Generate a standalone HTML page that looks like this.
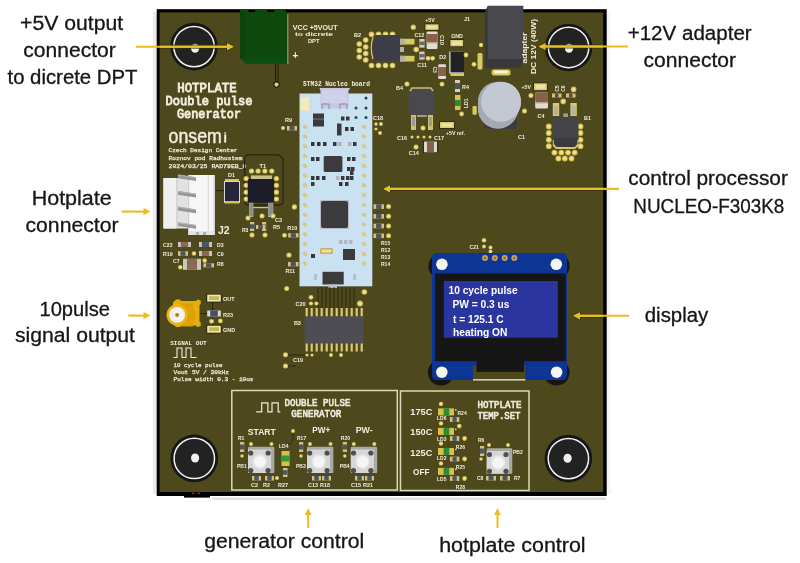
<!DOCTYPE html>
<html><head><meta charset="utf-8"><style>
html,body{margin:0;padding:0;background:#fff;}
body{width:800px;height:563px;overflow:hidden;position:relative;}
svg{position:absolute;left:0;top:0;}
</style></head><body>
<svg width="800" height="563" viewBox="0 0 800 563">
<defs><filter id="soft" x="-5%" y="-5%" width="110%" height="110%"><feGaussianBlur stdDeviation="0.35"/></filter></defs>
<g filter="url(#soft)">
<rect x="152.8" y="12" width="3.9" height="482" rx="0" fill="#ececec" />
<rect x="606.7" y="12" width="4" height="482" rx="0" fill="#f4f4f4" />
<rect x="212" y="497.5" width="394" height="2.5" rx="0" fill="#e0e0e0" />
<rect x="184" y="495" width="26" height="2.6" rx="0" fill="#000" />
<rect x="156.7" y="9.2" width="450" height="486.8" rx="0" fill="#000" />
<rect x="159.6" y="12.4" width="443.5" height="479.6" rx="0" fill="#4e481b" />
<rect x="192" y="492.6" width="2.6" height="1.4" rx="0" fill="#b02020" />
<rect x="197.5" y="492.6" width="2.6" height="1.4" rx="0" fill="#b02020" />
<circle cx="194" cy="46.6" r="23.8" fill="#181818" />
<circle cx="194" cy="46.6" r="20.2" fill="#202020" stroke="#f2f2f2" stroke-width="1.5"/>
<ellipse cx="195.1" cy="48.2" rx="4.1" ry="4.5" fill="#f2f2ec"/>
<circle cx="568.6" cy="47.5" r="23.8" fill="#181818" />
<circle cx="568.6" cy="47.5" r="20.2" fill="#202020" stroke="#f2f2f2" stroke-width="1.5"/>
<ellipse cx="569" cy="48.3" rx="4.1" ry="4.5" fill="#f2f2ec"/>
<circle cx="194.3" cy="458.4" r="23.8" fill="#181818" />
<circle cx="194.3" cy="458.4" r="20.2" fill="#202020" stroke="#f2f2f2" stroke-width="1.5"/>
<ellipse cx="195.1" cy="458" rx="4.1" ry="4.5" fill="#f2f2ec"/>
<circle cx="568.4" cy="458.6" r="23.8" fill="#181818" />
<circle cx="568.4" cy="458.6" r="20.2" fill="#202020" stroke="#f2f2f2" stroke-width="1.5"/>
<ellipse cx="567.6" cy="458.2" rx="4.1" ry="4.5" fill="#f2f2ec"/>
<path d="M240,9 L247.5,9 L249,12.5 L254.5,12.5 L256,9 L266.5,9 L268,12.5 L273.5,12.5 L275,9 L283.5,9 L287.8,13 L287.8,64 L246,64 L240,58 Z" fill="#0c4a10"/>
<rect x="240" y="12" width="5" height="46" rx="0" fill="#0a420d" />
<rect x="245" y="58.5" width="42.8" height="5.5" rx="0" fill="#0e4e12" />
<rect x="287.2" y="14" width="1.2" height="50" rx="0" fill="#8aa070" />
<line x1="275.5" y1="64" x2="275.5" y2="84" stroke="#1a1808" stroke-width="1"/>
<line x1="278" y1="64" x2="278" y2="84" stroke="#1a1808" stroke-width="1"/>
<circle cx="276.5" cy="84.6" r="3.3" fill="#2a2410" />
<circle cx="276.5" cy="84.6" r="2.1" fill="#e2d27c" />
<text x="292.8" y="29.8" font-family="Liberation Sans" font-size="6.4" font-weight="bold" fill="#f0eede" text-anchor="start" textLength="44.7" lengthAdjust="spacingAndGlyphs">VCC  +5VOUT</text>
<text x="295" y="36.2" font-family="Liberation Sans" font-size="5.6" font-weight="bold" fill="#f0eede" text-anchor="start" textLength="38" lengthAdjust="spacingAndGlyphs">to dicrete</text>
<text x="307.9" y="42.6" font-family="Liberation Sans" font-size="6" font-weight="bold" fill="#f0eede" text-anchor="start" textLength="11.5" lengthAdjust="spacingAndGlyphs">DPT</text>
<text x="295.5" y="59" font-family="Liberation Sans" font-size="10" font-weight="bold" fill="#f0eede" text-anchor="middle" >+</text>
<text x="207" y="91.9" font-family="Liberation Mono" font-size="13" font-weight="normal" fill="#f0eede" text-anchor="middle" stroke="#f0eede" stroke-width="0.9" textLength="59.5" lengthAdjust="spacingAndGlyphs">HOTPLATE</text>
<text x="209" y="105" font-family="Liberation Mono" font-size="13" font-weight="normal" fill="#f0eede" text-anchor="middle" stroke="#f0eede" stroke-width="0.9" textLength="87" lengthAdjust="spacingAndGlyphs">Double pulse</text>
<text x="209" y="118.2" font-family="Liberation Mono" font-size="13" font-weight="normal" fill="#f0eede" text-anchor="middle" stroke="#f0eede" stroke-width="0.9" textLength="64" lengthAdjust="spacingAndGlyphs">Generator</text>
<text x="168.6" y="142.6" font-family="Liberation Sans" font-size="19.5" font-weight="normal" fill="#f0eede" text-anchor="start" stroke="#f0eede" stroke-width="0.45" textLength="53.3" lengthAdjust="spacingAndGlyphs">onsem</text>
<rect x="224.2" y="132.4" width="2" height="10.2" rx="0" fill="#f0eede" />
<rect x="224.2" y="133.6" width="2" height="0.9" rx="0" fill="#4e481b" />
<text x="168.5" y="152" font-family="Liberation Mono" font-size="6" font-weight="normal" fill="#f0eede" text-anchor="start" stroke="#f0eede" stroke-width="0.25" textLength="69" lengthAdjust="spacingAndGlyphs">Czech Design Center</text>
<text x="168.5" y="160" font-family="Liberation Mono" font-size="6" font-weight="normal" fill="#f0eede" text-anchor="start" stroke="#f0eede" stroke-width="0.25" textLength="74" lengthAdjust="spacingAndGlyphs">Roznov pod Radhostem</text>
<text x="168.5" y="168" font-family="Liberation Mono" font-size="6" font-weight="normal" fill="#f0eede" text-anchor="start" stroke="#f0eede" stroke-width="0.25" textLength="78" lengthAdjust="spacingAndGlyphs">2024/03/25 RAD79EB_0</text>
<path d="M248.7,154.8 L279,154.8 L283,159 L283,201 Q283,205 279,205 L248.7,205 Q244.7,205 244.7,201 L244.7,158.8 Q244.7,154.8 248.7,154.8 Z" fill="none" stroke="#2a2610" stroke-width="1.3"/>
<text x="259.5" y="167.5" font-family="Liberation Sans" font-size="5.6" font-weight="bold" fill="#f0eede" text-anchor="start" >T1</text>
<circle cx="251.5" cy="171" r="2.6" fill="#d2be55" />
<circle cx="251.5" cy="171" r="1.56" fill="#ece29c" />
<circle cx="258.1" cy="171" r="2.6" fill="#d2be55" />
<circle cx="258.1" cy="171" r="1.56" fill="#ece29c" />
<circle cx="264.9" cy="171" r="2.6" fill="#d2be55" />
<circle cx="264.9" cy="171" r="1.56" fill="#ece29c" />
<circle cx="271.8" cy="171" r="2.6" fill="#d2be55" />
<circle cx="271.8" cy="171" r="1.56" fill="#ece29c" />
<circle cx="246.2" cy="178.5" r="2.6" fill="#d2be55" />
<circle cx="246.2" cy="178.5" r="1.56" fill="#ece29c" />
<circle cx="276.4" cy="178.5" r="2.6" fill="#d2be55" />
<circle cx="276.4" cy="178.5" r="1.56" fill="#ece29c" />
<circle cx="246.2" cy="185.3" r="2.6" fill="#d2be55" />
<circle cx="246.2" cy="185.3" r="1.56" fill="#ece29c" />
<circle cx="276.4" cy="185.3" r="2.6" fill="#d2be55" />
<circle cx="276.4" cy="185.3" r="1.56" fill="#ece29c" />
<circle cx="246.2" cy="192.2" r="2.6" fill="#d2be55" />
<circle cx="246.2" cy="192.2" r="1.56" fill="#ece29c" />
<circle cx="276.4" cy="192.2" r="2.6" fill="#d2be55" />
<circle cx="276.4" cy="192.2" r="1.56" fill="#ece29c" />
<circle cx="246.2" cy="199" r="2.6" fill="#d2be55" />
<circle cx="246.2" cy="199" r="1.56" fill="#ece29c" />
<circle cx="276.4" cy="199" r="2.6" fill="#d2be55" />
<circle cx="276.4" cy="199" r="1.56" fill="#ece29c" />
<rect x="251" y="175.4" width="21" height="4" rx="0" fill="#c8c090" />
<rect x="247.8" y="179" width="26.2" height="23.7" rx="1.5" fill="#1c1a2a" />
<rect x="249" y="202.7" width="4.4" height="14.3" rx="0" fill="#a8a8a0" />
<rect x="268" y="202.7" width="5.3" height="14.3" rx="0" fill="#a8a8a0" />
<rect x="249.5" y="203" width="3.4" height="13" rx="0" fill="#8e8e88" />
<rect x="268.5" y="203" width="4.3" height="13" rx="0" fill="#8e8e88" />
<rect x="253" y="207" width="15" height="1.2" rx="0" fill="#c0c0b8" />
<text x="228" y="177" font-family="Liberation Sans" font-size="5.5" font-weight="bold" fill="#f0eede" text-anchor="start" >D1</text>
<rect x="225" y="179" width="14" height="3" rx="0" fill="#d0c060" />
<rect x="224" y="181" width="16" height="22" rx="0" fill="#d8d8d0" />
<rect x="225" y="182" width="14" height="19" rx="0" fill="#26283a" />
<rect x="225" y="201" width="14" height="2.5" rx="0" fill="#d0c060" />
<rect x="216" y="190" width="8" height="1.2" rx="0" fill="#2a2612" />
<rect x="250" y="222" width="4.2" height="9" rx="0" fill="#d4c27a" />
<rect x="250" y="224.25" width="4.2" height="4.5" rx="0" fill="#4a5468" />
<rect x="262" y="222" width="4.2" height="9" rx="0" fill="#d4c27a" />
<rect x="262" y="224.25" width="4.2" height="4.5" rx="0" fill="#8a6a52" />
<circle cx="262" cy="216" r="2.5" fill="#d2be55" />
<circle cx="262" cy="216" r="1.5" fill="#ece29c" />
<circle cx="273" cy="216" r="2.5" fill="#d2be55" />
<circle cx="273" cy="216" r="1.5" fill="#ece29c" />
<circle cx="265" cy="235" r="2.5" fill="#d2be55" />
<circle cx="265" cy="235" r="1.5" fill="#ece29c" />
<circle cx="252" cy="235" r="2.5" fill="#d2be55" />
<circle cx="252" cy="235" r="1.5" fill="#ece29c" />
<text x="242" y="232" font-family="Liberation Sans" font-size="5" font-weight="bold" fill="#f0eede" text-anchor="start" >R3</text>
<text x="275" y="222" font-family="Liberation Sans" font-size="5.5" font-weight="bold" fill="#f0eede" text-anchor="start" >C3</text>
<text x="273" y="229" font-family="Liberation Sans" font-size="5.5" font-weight="bold" fill="#f0eede" text-anchor="start" >R5</text>
<rect x="256" y="225" width="9" height="4" rx="0" fill="#d4c27a" />
<rect x="258.25" y="225" width="4.5" height="4" rx="0" fill="#4a5468" />
<circle cx="248" cy="218" r="2.5" fill="#d2be55" />
<circle cx="248" cy="218" r="1.5" fill="#ece29c" />
<rect x="163.4" y="178" width="37" height="50.5" rx="0" fill="#e2e2e2" />
<rect x="163.4" y="178" width="13" height="50.5" rx="0" fill="#f0f0f0" />
<rect x="176.4" y="178" width="1" height="50.5" rx="0" fill="#c8c8c8" />
<rect x="188" y="175" width="27" height="60" rx="0" fill="#f6f6f6" />
<rect x="188" y="175" width="1.2" height="60" rx="0" fill="#d0d0d0" />
<rect x="207.8" y="175" width="1" height="60" rx="0" fill="#d8d8d8" />
<rect x="213.5" y="175" width="1.5" height="60" rx="0" fill="#d0d0d0" />
<polygon points="178,174.4 196,177.2 196,181.0 178,178.2" fill="#969696"/>
<polygon points="178,174.4 196,177.2 196,178.2 178,175.4" fill="#b4b4b4"/>
<polygon points="178,191.0 196,193.79999999999998 196,197.6 178,194.79999999999998" fill="#969696"/>
<polygon points="178,191.0 196,193.79999999999998 196,194.79999999999998 178,192.0" fill="#b4b4b4"/>
<polygon points="178,206.60000000000002 196,209.4 196,213.20000000000002 178,210.4" fill="#969696"/>
<polygon points="178,206.60000000000002 196,209.4 196,210.4 178,207.60000000000002" fill="#b4b4b4"/>
<polygon points="178,222.20000000000002 196,225.0 196,228.8 178,226.0" fill="#969696"/>
<polygon points="178,222.20000000000002 196,225.0 196,226.0 178,223.20000000000002" fill="#b4b4b4"/>
<rect x="189" y="231" width="24" height="4" rx="0" fill="#e4e4e4" />
<rect x="196" y="232" width="3" height="3" rx="0" fill="#b0b0b0" />
<rect x="203" y="232" width="3" height="3" rx="0" fill="#b0b0b0" />
<text x="218" y="234.2" font-family="Liberation Sans" font-size="10.5" font-weight="bold" fill="#f0eede" text-anchor="start" >J2</text>
<text x="163" y="246.5" font-family="Liberation Sans" font-size="5.2" font-weight="bold" fill="#f0eede" text-anchor="start" >C22</text>
<rect x="178" y="242" width="13" height="5" rx="0" fill="#c8c8c0" />
<rect x="180.86" y="242" width="7.280000000000001" height="5" rx="0" fill="#8a6a52" />
<rect x="199" y="242" width="13" height="5" rx="0" fill="#c8c8c0" />
<rect x="201.86" y="242" width="7.280000000000001" height="5" rx="0" fill="#4a5468" />
<text x="217" y="246.5" font-family="Liberation Sans" font-size="5.2" font-weight="bold" fill="#f0eede" text-anchor="start" >D3</text>
<text x="163" y="255.5" font-family="Liberation Sans" font-size="5.2" font-weight="bold" fill="#f0eede" text-anchor="start" >R19</text>
<rect x="178" y="251.2" width="10" height="4.6" rx="0" fill="#d4c27a" />
<rect x="180.5" y="251.2" width="5.0" height="4.6" rx="0" fill="#4a5468" />
<circle cx="194" cy="253.5" r="2.3" fill="#d2be55" />
<circle cx="194" cy="253.5" r="1.38" fill="#ece29c" />
<rect x="199" y="251" width="13" height="5" rx="0" fill="#c8c8c0" />
<rect x="201.86" y="251" width="7.280000000000001" height="5" rx="0" fill="#8a6a52" />
<text x="217" y="255.5" font-family="Liberation Sans" font-size="5.2" font-weight="bold" fill="#f0eede" text-anchor="start" >C9</text>
<text x="173" y="263" font-family="Liberation Sans" font-size="5.2" font-weight="bold" fill="#f0eede" text-anchor="start" >C7</text>
<rect x="183" y="258.8" width="18" height="11" rx="0" fill="#c8c8c0" />
<rect x="186.96" y="258.8" width="10.080000000000002" height="11" rx="0" fill="#8a6a52" />
<circle cx="180.3" cy="267.2" r="2.3" fill="#d2be55" />
<circle cx="180.3" cy="267.2" r="1.38" fill="#ece29c" />
<circle cx="204.7" cy="260.6" r="2.3" fill="#d2be55" />
<circle cx="204.7" cy="260.6" r="1.38" fill="#ece29c" />
<rect x="203.4" y="263.3" width="10.6" height="4" rx="0" fill="#d4c27a" />
<rect x="206.05" y="263.3" width="5.3" height="4" rx="0" fill="#4a5468" />
<text x="217" y="266" font-family="Liberation Sans" font-size="5.2" font-weight="bold" fill="#f0eede" text-anchor="start" >R8</text>
<text x="354" y="36.5" font-family="Liberation Sans" font-size="5.6" font-weight="bold" fill="#f0eede" text-anchor="start" >B2</text>
<circle cx="371.5" cy="34.2" r="2.8" fill="#d2be55" />
<circle cx="371.5" cy="34.2" r="1.68" fill="#ece29c" />
<circle cx="378.5" cy="34.2" r="2.8" fill="#d2be55" />
<circle cx="378.5" cy="34.2" r="1.68" fill="#ece29c" />
<circle cx="385.5" cy="34.2" r="2.8" fill="#d2be55" />
<circle cx="385.5" cy="34.2" r="1.68" fill="#ece29c" />
<circle cx="392.5" cy="34.2" r="2.8" fill="#d2be55" />
<circle cx="392.5" cy="34.2" r="1.68" fill="#ece29c" />
<circle cx="371.5" cy="65.5" r="2.8" fill="#d2be55" />
<circle cx="371.5" cy="65.5" r="1.68" fill="#ece29c" />
<circle cx="378.5" cy="65.5" r="2.8" fill="#d2be55" />
<circle cx="378.5" cy="65.5" r="1.68" fill="#ece29c" />
<circle cx="385.5" cy="65.5" r="2.8" fill="#d2be55" />
<circle cx="385.5" cy="65.5" r="1.68" fill="#ece29c" />
<circle cx="392.5" cy="65.5" r="2.8" fill="#d2be55" />
<circle cx="392.5" cy="65.5" r="1.68" fill="#ece29c" />
<circle cx="365.7" cy="40" r="2.8" fill="#d2be55" />
<circle cx="365.7" cy="40" r="1.68" fill="#ece29c" />
<circle cx="365.7" cy="47" r="2.8" fill="#d2be55" />
<circle cx="365.7" cy="47" r="1.68" fill="#ece29c" />
<circle cx="365.7" cy="53.5" r="2.8" fill="#d2be55" />
<circle cx="365.7" cy="53.5" r="1.68" fill="#ece29c" />
<circle cx="365.7" cy="60" r="2.8" fill="#d2be55" />
<circle cx="365.7" cy="60" r="1.68" fill="#ece29c" />
<circle cx="359.3" cy="44" r="2.8" fill="#d2be55" />
<circle cx="359.3" cy="44" r="1.68" fill="#ece29c" />
<circle cx="359.3" cy="50.5" r="2.8" fill="#d2be55" />
<circle cx="359.3" cy="50.5" r="1.68" fill="#ece29c" />
<circle cx="359.3" cy="57" r="2.8" fill="#d2be55" />
<circle cx="359.3" cy="57" r="1.68" fill="#ece29c" />
<path d="M376,35 L399.8,35 L399.8,61 L376,61 L372.5,57 L372.5,39 Z" fill="#3c3c48"/>
<path d="M373,37 Q369.5,48 373,59" fill="none" stroke="#d8c860" stroke-width="1.2"/>
<rect x="400" y="38.8" width="14.5" height="5.7" rx="0" fill="#d8c860" />
<rect x="400" y="38.8" width="5" height="5.7" rx="0" fill="#b4b0a8" />
<rect x="400" y="55.8" width="14.5" height="5.7" rx="0" fill="#d8c860" />
<rect x="400" y="55.8" width="5" height="5.7" rx="0" fill="#b4b0a8" />
<rect x="400" y="47" width="4" height="5" rx="0" fill="#b4b0a8" />
<circle cx="416.2" cy="49.5" r="2.8" fill="#d2be55" />
<circle cx="416.2" cy="49.5" r="1.68" fill="#ece29c" />
<text x="425.3" y="21.8" font-family="Liberation Sans" font-size="5.2" font-weight="bold" fill="#f0eede" text-anchor="start" >+5V</text>
<circle cx="413.3" cy="27.2" r="2.6" fill="#d2be55" />
<circle cx="413.3" cy="27.2" r="1.56" fill="#ece29c" />
<rect x="424.5" y="23.5" width="14.9" height="7.199999999999999" rx="0" fill="#2a2612" />
<rect x="425.3" y="24.3" width="13.3" height="5.6" rx="0" fill="#dccb72" />
<rect x="426.90000000000003" y="25.7" width="10.100000000000001" height="2.8" rx="0" fill="#eee2a6" />
<text x="414.4" y="37.2" font-family="Liberation Sans" font-size="5.4" font-weight="bold" fill="#f0eede" text-anchor="start" >C12</text>
<rect x="426.6" y="31.6" width="10.9" height="17.4" rx="1" fill="#e0dcd4" />
<rect x="426.6" y="34" width="10.9" height="8" rx="0" fill="#8a6048" />
<rect x="426.6" y="42" width="10.9" height="1.5" rx="0" fill="#b8a898" />
<text transform="translate(439.5,35) rotate(90)" font-family="Liberation Sans" font-weight="bold" font-size="5.4" fill="#f0eede">C10</text>
<rect x="419.3" y="39" width="5.3" height="8.6" rx="0" fill="#d8d0b8" />
<rect x="419.3" y="41.5" width="5.3" height="3.6" rx="0" fill="#6a6a70" />
<rect x="419.3" y="51.6" width="5.3" height="8" rx="0" fill="#d8d0b8" />
<rect x="419.3" y="54" width="5.3" height="3.4" rx="0" fill="#6a6a70" />
<circle cx="428" cy="58.3" r="2.4" fill="#d2be55" />
<circle cx="428" cy="58.3" r="1.44" fill="#ece29c" />
<circle cx="432.6" cy="58.3" r="2.4" fill="#d2be55" />
<circle cx="432.6" cy="58.3" r="1.44" fill="#ece29c" />
<text x="417.3" y="67.2" font-family="Liberation Sans" font-size="5.4" font-weight="bold" fill="#f0eede" text-anchor="start" >C11</text>
<text x="439.3" y="59" font-family="Liberation Sans" font-size="5.4" font-weight="bold" fill="#f0eede" text-anchor="start" >D2</text>
<text x="451.3" y="37.6" font-family="Liberation Sans" font-size="5.2" font-weight="bold" fill="#f0eede" text-anchor="start" >GND</text>
<rect x="449.5" y="39.2" width="14.5" height="7.9" rx="0" fill="#2a2612" />
<rect x="450.3" y="40" width="12.9" height="6.3" rx="0" fill="#dccb72" />
<rect x="451.90000000000003" y="41.4" width="9.7" height="3.5" rx="0" fill="#eee2a6" />
<rect x="449.3" y="51.6" width="14.7" height="22" rx="0" fill="#e4e4e0" />
<rect x="450.5" y="51.6" width="13.5" height="20.8" rx="0" fill="#222228" />
<rect x="450.5" y="73.4" width="13.5" height="2.6" rx="0" fill="#d8c860" />
<rect x="438.3" y="64.3" width="7.7" height="14.7" rx="1" fill="#e0dcd4" />
<rect x="438.3" y="67" width="7.7" height="9" rx="0" fill="#8a6048" />
<text transform="translate(432.5,66.5) rotate(90)" font-family="Liberation Sans" font-weight="bold" font-size="5" fill="#f0eede">C3</text>
<circle cx="442" cy="84.2" r="2.4" fill="#d2be55" />
<circle cx="442" cy="84.2" r="1.44" fill="#ece29c" />
<circle cx="466" cy="55" r="2.4" fill="#d2be55" />
<circle cx="466" cy="55" r="1.44" fill="#ece29c" />
<circle cx="474" cy="64.3" r="2.4" fill="#d2be55" />
<circle cx="474" cy="64.3" r="1.44" fill="#ece29c" />
<text x="464" y="21.2" font-family="Liberation Sans" font-size="5.4" font-weight="bold" fill="#f0eede" text-anchor="start" >J1</text>
<rect x="477.5" y="53" width="5" height="16.5" rx="1.5" fill="#d8c860" />
<circle cx="481" cy="45" r="2.2" fill="#d2be55" />
<circle cx="481" cy="45" r="1.32" fill="#ece29c" />
<path d="M487.8,5.7 L484.8,12 L484.8,68 L520.4,68 L523.4,59 Z" fill="#38383c"/>
<rect x="487.8" y="5.7" width="35.6" height="53.3" rx="0" fill="#4a4a4e" />
<rect x="491.6" y="69.5" width="18.9" height="6.1" rx="2" fill="#d8c860" />
<rect x="494" y="70.5" width="14" height="3" rx="1" fill="#f6f2dc" />
<text x="0" y="0" transform="translate(527.2,63.5) rotate(-90)" font-family="Liberation Sans" font-weight="bold" font-size="7.2" fill="#f0eede" textLength="31" lengthAdjust="spacingAndGlyphs">adapter</text>
<text x="0" y="0" transform="translate(535.7,74) rotate(-90)" font-family="Liberation Sans" font-weight="bold" font-size="7.2" fill="#f0eede" textLength="55" lengthAdjust="spacingAndGlyphs">DC 12V (40W)</text>
<text x="396" y="90" font-family="Liberation Sans" font-size="5.5" font-weight="bold" fill="#f0eede" text-anchor="start" >B4</text>
<circle cx="407" cy="84" r="2.5" fill="#d2be55" />
<circle cx="407" cy="84" r="1.5" fill="#ece29c" />
<rect x="408.4" y="87.3" width="26.2" height="27.4" rx="2" fill="#48484c" />
<path d="M410,91 L412,88 L431,88 L433,91" fill="none" stroke="#d0c060" stroke-width="1.5"/>
<rect x="411" y="115" width="5" height="15" rx="0" fill="#d0c070" />
<rect x="412" y="117" width="3" height="9" rx="0" fill="#9a9a98" />
<rect x="428" y="115" width="5" height="15" rx="0" fill="#d0c070" />
<rect x="429" y="117" width="3" height="9" rx="0" fill="#9a9a98" />
<rect x="417" y="115" width="10" height="2" rx="0" fill="#9a9a98" />
<circle cx="423" cy="128" r="2.5" fill="#d2be55" />
<circle cx="423" cy="128" r="1.5" fill="#ece29c" />
<rect x="439.2" y="121.2" width="15.6" height="7.6" rx="0" fill="#2a2612" />
<rect x="440" y="122" width="14" height="6" rx="0" fill="#dccb72" />
<rect x="441.6" y="123.4" width="10.8" height="3.2" rx="0" fill="#eee2a6" />
<text x="446" y="135" font-family="Liberation Sans" font-size="5.2" font-weight="bold" fill="#f0eede" text-anchor="start" >+5V ref.</text>
<text x="397" y="140" font-family="Liberation Sans" font-size="5.5" font-weight="bold" fill="#f0eede" text-anchor="start" >C16</text>
<text x="434" y="140" font-family="Liberation Sans" font-size="5.5" font-weight="bold" fill="#f0eede" text-anchor="start" >C17</text>
<text x="408.8" y="155" font-family="Liberation Sans" font-size="5.5" font-weight="bold" fill="#f0eede" text-anchor="start" >C14</text>
<circle cx="412" cy="137" r="1.6" fill="#d2be55" />
<circle cx="412" cy="137" r="0.96" fill="#ece29c" />
<circle cx="418" cy="137" r="1.6" fill="#d2be55" />
<circle cx="418" cy="137" r="0.96" fill="#ece29c" />
<circle cx="424" cy="137" r="1.6" fill="#d2be55" />
<circle cx="424" cy="137" r="0.96" fill="#ece29c" />
<circle cx="430" cy="137" r="1.6" fill="#d2be55" />
<circle cx="430" cy="137" r="0.96" fill="#ece29c" />
<circle cx="416" cy="147" r="2.5" fill="#d2be55" />
<circle cx="416" cy="147" r="1.5" fill="#ece29c" />
<rect x="422.9" y="141" width="15.2" height="11.8" rx="0" fill="#1e1c0c" />
<rect x="423.9" y="141.5" width="13.2" height="10.8" rx="0" fill="#d8d8d0" />
<rect x="427" y="141.5" width="7" height="10.8" rx="0" fill="#8a6048" />
<rect x="455" y="80" width="5" height="12" rx="0" fill="#d8d0b8" />
<rect x="455" y="83" width="5" height="6" rx="0" fill="#4a5468" />
<text x="462" y="89" font-family="Liberation Sans" font-size="5.5" font-weight="bold" fill="#f0eede" text-anchor="start" >R4</text>
<rect x="455" y="95" width="5.5" height="15" rx="0" fill="#d8c050" />
<rect x="455" y="100" width="5.5" height="6" rx="0" fill="#2a8c34" />
<text transform="translate(467.5,108) rotate(-90)" font-family="Liberation Sans" font-weight="bold" font-size="5" fill="#f0eede">LD1</text>
<circle cx="461.6" cy="114" r="2.4" fill="#d2be55" />
<circle cx="461.6" cy="114" r="1.44" fill="#ece29c" />
<rect x="484" y="96" width="33" height="33" rx="2" fill="#3a3a40" />
<rect x="472.5" y="106" width="4.3" height="8.8" rx="1" fill="#d8c860" />
<circle cx="498.0" cy="108.5" r="20" fill="#a6aab2" />
<circle cx="498.0" cy="107.65" r="20" fill="#a6aab2" />
<circle cx="498.0" cy="106.8" r="20" fill="#a6aab2" />
<circle cx="498.0" cy="105.95" r="20" fill="#a6aab2" />
<circle cx="498.0" cy="105.1" r="20" fill="#a6aab2" />
<circle cx="498.0" cy="104.25" r="20" fill="#a6aab2" />
<circle cx="498.0" cy="103.4" r="20" fill="#a6aab2" />
<circle cx="498.0" cy="102.55" r="20" fill="#a6aab2" />
<circle cx="498.0" cy="101.7" r="20" fill="#a6aab2" />
<circle cx="498.0" cy="108.5" r="20" fill="#a6aab2" />
<circle cx="498.375" cy="107.65" r="20" fill="#a6aab2" />
<circle cx="498.75" cy="106.8" r="20" fill="#a6aab2" />
<circle cx="499.125" cy="105.95" r="20" fill="#a6aab2" />
<circle cx="499.5" cy="105.1" r="20" fill="#a6aab2" />
<circle cx="499.875" cy="104.25" r="20" fill="#a6aab2" />
<circle cx="500.25" cy="103.4" r="20" fill="#a6aab2" />
<circle cx="500.625" cy="102.55" r="20" fill="#a6aab2" />
<circle cx="501.0" cy="101.7" r="20" fill="#a6aab2" />
<circle cx="501" cy="101.7" r="20" fill="#c4c8d2" />
<text x="518" y="139" font-family="Liberation Sans" font-size="5.5" font-weight="bold" fill="#f0eede" text-anchor="start" >C1</text>
<text x="521.6" y="89" font-family="Liberation Sans" font-size="5.2" font-weight="bold" fill="#f0eede" text-anchor="start" >+5V</text>
<rect x="533.2" y="82.5" width="14.5" height="8.5" rx="0" fill="#2a2612" />
<rect x="534" y="83.3" width="12.9" height="6.9" rx="0" fill="#dccb72" />
<rect x="535.6" y="84.7" width="9.7" height="4.1000000000000005" rx="0" fill="#eee2a6" />
<circle cx="530.9" cy="95.5" r="2.5" fill="#d2be55" />
<circle cx="530.9" cy="95.5" r="1.5" fill="#ece29c" />
<circle cx="524.5" cy="111" r="2.5" fill="#d2be55" />
<circle cx="524.5" cy="111" r="1.5" fill="#ece29c" />
<rect x="535.2" y="92.6" width="12.8" height="16" rx="1" fill="#e0dcd4" />
<rect x="535.2" y="92.6" width="12.8" height="9.5" rx="1" fill="#8a6048" />
<rect x="535.2" y="102" width="12.8" height="1.5" rx="0" fill="#b8a898" />
<text x="537.6" y="118" font-family="Liberation Sans" font-size="5.4" font-weight="bold" fill="#f0eede" text-anchor="start" >C4</text>
<text transform="translate(558.5,91.8) rotate(-90)" font-family="Liberation Sans" font-weight="bold" font-size="5" fill="#f0eede">C5</text>
<text transform="translate(564.5,91.8) rotate(-90)" font-family="Liberation Sans" font-weight="bold" font-size="5" fill="#f0eede">C6</text>
<circle cx="573.6" cy="89.4" r="2.8" fill="#d2be55" />
<circle cx="573.6" cy="89.4" r="1.68" fill="#ece29c" />
<circle cx="563.2" cy="101.4" r="2.8" fill="#d2be55" />
<circle cx="563.2" cy="101.4" r="1.68" fill="#ece29c" />
<rect x="552" y="93.5" width="9.5" height="4" rx="0" fill="#d4c27a" />
<rect x="555" y="93.5" width="3.5" height="4" rx="0" fill="#5a5040" />
<rect x="566" y="93.5" width="9.5" height="4" rx="0" fill="#d4c27a" />
<rect x="569" y="93.5" width="3.5" height="4" rx="0" fill="#5a5040" />
<text x="584" y="120.2" font-family="Liberation Sans" font-size="5.4" font-weight="bold" fill="#f0eede" text-anchor="start" >B1</text>
<rect x="552.8" y="103" width="6.4" height="13" rx="0" fill="#d8c870" />
<rect x="554" y="106" width="4" height="9" rx="0" fill="#b8b0a0" />
<rect x="570.4" y="103" width="6.4" height="13" rx="0" fill="#d8c870" />
<rect x="571.6" y="106" width="4" height="9" rx="0" fill="#b8b0a0" />
<rect x="563.2" y="113.4" width="4.8" height="4" rx="0" fill="#9a9a98" />
<circle cx="548.8" cy="126.5" r="2.9" fill="#d2be55" />
<circle cx="548.8" cy="126.5" r="1.74" fill="#ece29c" />
<circle cx="580.5" cy="126.5" r="2.9" fill="#d2be55" />
<circle cx="580.5" cy="126.5" r="1.74" fill="#ece29c" />
<circle cx="548.8" cy="133" r="2.9" fill="#d2be55" />
<circle cx="548.8" cy="133" r="1.74" fill="#ece29c" />
<circle cx="580.5" cy="133" r="2.9" fill="#d2be55" />
<circle cx="580.5" cy="133" r="1.74" fill="#ece29c" />
<circle cx="548.8" cy="139.8" r="2.9" fill="#d2be55" />
<circle cx="548.8" cy="139.8" r="1.74" fill="#ece29c" />
<circle cx="580.5" cy="139.8" r="2.9" fill="#d2be55" />
<circle cx="580.5" cy="139.8" r="1.74" fill="#ece29c" />
<circle cx="548.8" cy="146.2" r="2.9" fill="#d2be55" />
<circle cx="548.8" cy="146.2" r="1.74" fill="#ece29c" />
<circle cx="580.5" cy="146.2" r="2.9" fill="#d2be55" />
<circle cx="580.5" cy="146.2" r="1.74" fill="#ece29c" />
<circle cx="554.4" cy="152.6" r="2.9" fill="#d2be55" />
<circle cx="554.4" cy="152.6" r="1.74" fill="#ece29c" />
<circle cx="561.3" cy="152.6" r="2.9" fill="#d2be55" />
<circle cx="561.3" cy="152.6" r="1.74" fill="#ece29c" />
<circle cx="568" cy="152.6" r="2.9" fill="#d2be55" />
<circle cx="568" cy="152.6" r="1.74" fill="#ece29c" />
<circle cx="574.7" cy="152.6" r="2.9" fill="#d2be55" />
<circle cx="574.7" cy="152.6" r="1.74" fill="#ece29c" />
<circle cx="558.4" cy="158.5" r="2.9" fill="#d2be55" />
<circle cx="558.4" cy="158.5" r="1.74" fill="#ece29c" />
<circle cx="564.8" cy="158.5" r="2.9" fill="#d2be55" />
<circle cx="564.8" cy="158.5" r="1.74" fill="#ece29c" />
<circle cx="571.5" cy="158.5" r="2.9" fill="#d2be55" />
<circle cx="571.5" cy="158.5" r="1.74" fill="#ece29c" />
<path d="M552.8,140 L552.8,146 L556,149 L575,149 L578.4,146 L578.4,140" fill="#d8c860"/>
<rect x="552.8" y="117" width="25.6" height="23" rx="0" fill="#45454a" />
<path d="M553.8,138 L553.8,144 L556.5,147 L574.7,147 L577.4,144 L577.4,138 Z" fill="#3a3a3e"/>
<text x="303" y="86.2" font-family="Liberation Mono" font-size="6.4" font-weight="bold" fill="#f0eede" text-anchor="start" textLength="67" lengthAdjust="spacingAndGlyphs">STM32 Nucleo board</text>
<rect x="299.5" y="93.5" width="72.8" height="192.8" rx="0" fill="#c9e1f1" />
<rect x="300.5" y="97" width="8.5" height="14" rx="0" fill="#f2ecb8" />
<path d="M319.5,88 L350,88 L348.5,91 L348.5,106 L346,108.5 L323,108.5 L320.5,106 L320.5,91 Z" fill="#c8c8e4"/>
<rect x="322" y="90" width="25" height="13" rx="0" fill="#d0d0ea" />
<path d="M322,109 L322,104 L329,104 L329,109 M340,109 L340,104 L347,104 L347,109" fill="none" stroke="#8888a0" stroke-width="1"/>
<ellipse cx="305" cy="126.7" rx="2.6" ry="1.9" fill="#d8c888" transform="rotate(35 305 126.7)"/>
<ellipse cx="364" cy="126.7" rx="2.6" ry="1.9" fill="#d8c888" transform="rotate(35 364 126.7)"/>
<ellipse cx="305" cy="136.48" rx="2.6" ry="1.9" fill="#d8c888" transform="rotate(35 305 136.48)"/>
<ellipse cx="364" cy="136.48" rx="2.6" ry="1.9" fill="#d8c888" transform="rotate(35 364 136.48)"/>
<ellipse cx="305" cy="146.26" rx="2.6" ry="1.9" fill="#d8c888" transform="rotate(35 305 146.26)"/>
<ellipse cx="364" cy="146.26" rx="2.6" ry="1.9" fill="#d8c888" transform="rotate(35 364 146.26)"/>
<ellipse cx="305" cy="156.04" rx="2.6" ry="1.9" fill="#d8c888" transform="rotate(35 305 156.04)"/>
<ellipse cx="364" cy="156.04" rx="2.6" ry="1.9" fill="#d8c888" transform="rotate(35 364 156.04)"/>
<ellipse cx="305" cy="165.82" rx="2.6" ry="1.9" fill="#d8c888" transform="rotate(35 305 165.82)"/>
<ellipse cx="364" cy="165.82" rx="2.6" ry="1.9" fill="#d8c888" transform="rotate(35 364 165.82)"/>
<ellipse cx="305" cy="175.6" rx="2.6" ry="1.9" fill="#d8c888" transform="rotate(35 305 175.6)"/>
<ellipse cx="364" cy="175.6" rx="2.6" ry="1.9" fill="#d8c888" transform="rotate(35 364 175.6)"/>
<ellipse cx="305" cy="185.38" rx="2.6" ry="1.9" fill="#d8c888" transform="rotate(35 305 185.38)"/>
<ellipse cx="364" cy="185.38" rx="2.6" ry="1.9" fill="#d8c888" transform="rotate(35 364 185.38)"/>
<ellipse cx="305" cy="195.16" rx="2.6" ry="1.9" fill="#d8c888" transform="rotate(35 305 195.16)"/>
<ellipse cx="364" cy="195.16" rx="2.6" ry="1.9" fill="#d8c888" transform="rotate(35 364 195.16)"/>
<ellipse cx="305" cy="204.94" rx="2.6" ry="1.9" fill="#d8c888" transform="rotate(35 305 204.94)"/>
<ellipse cx="364" cy="204.94" rx="2.6" ry="1.9" fill="#d8c888" transform="rotate(35 364 204.94)"/>
<ellipse cx="305" cy="214.72" rx="2.6" ry="1.9" fill="#d8c888" transform="rotate(35 305 214.72)"/>
<ellipse cx="364" cy="214.72" rx="2.6" ry="1.9" fill="#d8c888" transform="rotate(35 364 214.72)"/>
<ellipse cx="305" cy="224.5" rx="2.6" ry="1.9" fill="#d8c888" transform="rotate(35 305 224.5)"/>
<ellipse cx="364" cy="224.5" rx="2.6" ry="1.9" fill="#d8c888" transform="rotate(35 364 224.5)"/>
<ellipse cx="305" cy="234.28" rx="2.6" ry="1.9" fill="#d8c888" transform="rotate(35 305 234.28)"/>
<ellipse cx="364" cy="234.28" rx="2.6" ry="1.9" fill="#d8c888" transform="rotate(35 364 234.28)"/>
<ellipse cx="305" cy="244.06" rx="2.6" ry="1.9" fill="#d8c888" transform="rotate(35 305 244.06)"/>
<ellipse cx="364" cy="244.06" rx="2.6" ry="1.9" fill="#d8c888" transform="rotate(35 364 244.06)"/>
<ellipse cx="305" cy="253.83999999999997" rx="2.6" ry="1.9" fill="#d8c888" transform="rotate(35 305 253.83999999999997)"/>
<ellipse cx="364" cy="253.83999999999997" rx="2.6" ry="1.9" fill="#d8c888" transform="rotate(35 364 253.83999999999997)"/>
<ellipse cx="305" cy="263.62" rx="2.6" ry="1.9" fill="#d8c888" transform="rotate(35 305 263.62)"/>
<ellipse cx="364" cy="263.62" rx="2.6" ry="1.9" fill="#d8c888" transform="rotate(35 364 263.62)"/>
<rect x="313" y="113.5" width="11" height="13" rx="0" fill="#3a3a3e" />
<rect x="313" y="118.5" width="11" height="1.2" rx="0" fill="#6a6a70" />
<rect x="337" y="123.5" width="4.5" height="12" rx="0" fill="#3a3a3e" />
<rect x="341" y="116.5" width="3.5" height="4" rx="0" fill="#36363a" />
<rect x="346" y="116.5" width="3.5" height="4" rx="0" fill="#36363a" />
<rect x="345" y="127" width="3.5" height="4" rx="0" fill="#36363a" />
<rect x="350.5" y="127" width="3.5" height="4" rx="0" fill="#36363a" />
<rect x="311" y="142" width="3.5" height="4" rx="0" fill="#36363a" />
<rect x="317" y="142" width="3.5" height="4" rx="0" fill="#36363a" />
<rect x="323" y="142" width="3.5" height="4" rx="0" fill="#36363a" />
<rect x="333" y="142" width="3.5" height="4" rx="0" fill="#36363a" />
<rect x="338" y="142" width="3.5" height="4" rx="0" fill="#b0b0b8" />
<rect x="348" y="142" width="3.5" height="4" rx="0" fill="#b0b0b8" />
<rect x="353" y="142" width="3.5" height="4" rx="0" fill="#36363a" />
<rect x="311" y="157" width="3.5" height="4" rx="0" fill="#36363a" />
<rect x="316" y="157" width="3.5" height="4" rx="0" fill="#36363a" />
<rect x="347" y="157" width="3.5" height="4" rx="0" fill="#36363a" />
<rect x="352" y="157" width="3.5" height="4" rx="0" fill="#36363a" />
<rect x="323.7" y="156" width="18.7" height="16" rx="1.5" fill="#3a3a3e" />
<rect x="347" y="167" width="3.5" height="4" rx="0" fill="#36363a" />
<rect x="351" y="167" width="3.5" height="4" rx="0" fill="#36363a" />
<rect x="350" y="171" width="3.5" height="4" rx="0" fill="#36363a" />
<rect x="311" y="176" width="3.5" height="4" rx="0" fill="#36363a" />
<rect x="316" y="176" width="3.5" height="4" rx="0" fill="#36363a" />
<rect x="322" y="176" width="3.5" height="4" rx="0" fill="#36363a" />
<rect x="336" y="176" width="3.5" height="4" rx="0" fill="#b8b8c0" />
<rect x="341" y="176" width="3.5" height="4" rx="0" fill="#36363a" />
<rect x="346" y="176" width="3.5" height="4" rx="0" fill="#36363a" />
<rect x="350" y="176" width="3.5" height="4" rx="0" fill="#36363a" />
<circle cx="366" cy="98" r="1.5" fill="#284646" />
<circle cx="356" cy="108" r="1.5" fill="#284646" />
<circle cx="366" cy="108" r="1.5" fill="#284646" />
<circle cx="356" cy="117.5" r="1.5" fill="#284646" />
<circle cx="366" cy="117.5" r="1.5" fill="#284646" />
<rect x="320" y="200" width="29" height="29" rx="0" fill="#b8b8c8" />
<rect x="321" y="201" width="27" height="27" rx="2" fill="#3a3a3e" />
<rect x="311" y="182" width="3.5" height="4" rx="0" fill="#36363a" />
<rect x="339" y="182" width="3.5" height="4" rx="0" fill="#36363a" />
<rect x="345" y="182" width="3.5" height="4" rx="0" fill="#36363a" />
<rect x="339" y="240" width="3.5" height="4" rx="0" fill="#b4b4c0" />
<rect x="344" y="240" width="3.5" height="4" rx="0" fill="#b4b4c0" />
<rect x="349" y="240" width="3.5" height="4" rx="0" fill="#b4b4c0" />
<rect x="320" y="248" width="13" height="6" rx="1.5" fill="#c8b060" />
<rect x="321.5" y="249.5" width="10" height="3" rx="1" fill="#f0e0a0" />
<rect x="343" y="249" width="12" height="11" rx="0" fill="#3a3a3e" />
<rect x="311" y="254" width="4" height="4" rx="0" fill="#36363a" />
<rect x="322.5" y="271.8" width="21.2" height="12.7" rx="0" fill="#3a3a3e" />
<rect x="314.3" y="274" width="2.5" height="6" rx="0" fill="#b8b8c4" />
<rect x="353.3" y="274" width="2.5" height="6" rx="0" fill="#b8b8c4" />
<rect x="328.5" y="284.5" width="8.5" height="3.5" rx="0" fill="#c0c0c8" />
<line x1="318" y1="287" x2="318" y2="308" stroke="#2a2610" stroke-width="0.9"/>
<line x1="322" y1="287" x2="322" y2="308" stroke="#2a2610" stroke-width="0.9"/>
<line x1="326" y1="287" x2="326" y2="308" stroke="#2a2610" stroke-width="0.9"/>
<line x1="330" y1="287" x2="330" y2="308" stroke="#2a2610" stroke-width="0.9"/>
<line x1="334" y1="287" x2="334" y2="308" stroke="#2a2610" stroke-width="0.9"/>
<line x1="338" y1="287" x2="338" y2="308" stroke="#2a2610" stroke-width="0.9"/>
<line x1="342" y1="287" x2="342" y2="308" stroke="#2a2610" stroke-width="0.9"/>
<line x1="346" y1="287" x2="346" y2="308" stroke="#2a2610" stroke-width="0.9"/>
<line x1="350" y1="287" x2="350" y2="308" stroke="#2a2610" stroke-width="0.9"/>
<line x1="354" y1="287" x2="354" y2="308" stroke="#2a2610" stroke-width="0.9"/>
<rect x="373.5" y="204.29999999999998" width="10.5" height="4.6" rx="0" fill="#d4c27a" />
<rect x="376.125" y="204.29999999999998" width="5.25" height="4.6" rx="0" fill="#4a5468" />
<circle cx="388.6" cy="206.6" r="2.5" fill="#d2be55" />
<circle cx="388.6" cy="206.6" r="1.5" fill="#ece29c" />
<rect x="373.5" y="214.0" width="10.5" height="4.6" rx="0" fill="#d4c27a" />
<rect x="376.125" y="214.0" width="5.25" height="4.6" rx="0" fill="#4a5468" />
<circle cx="388.6" cy="216.3" r="2.5" fill="#d2be55" />
<circle cx="388.6" cy="216.3" r="1.5" fill="#ece29c" />
<rect x="373.5" y="223.7" width="10.5" height="4.6" rx="0" fill="#d4c27a" />
<rect x="376.125" y="223.7" width="5.25" height="4.6" rx="0" fill="#4a5468" />
<circle cx="388.6" cy="226" r="2.5" fill="#d2be55" />
<circle cx="388.6" cy="226" r="1.5" fill="#ece29c" />
<rect x="373.5" y="233.5" width="10.5" height="4.6" rx="0" fill="#d4c27a" />
<rect x="376.125" y="233.5" width="5.25" height="4.6" rx="0" fill="#4a5468" />
<circle cx="388.6" cy="235.8" r="2.5" fill="#d2be55" />
<circle cx="388.6" cy="235.8" r="1.5" fill="#ece29c" />
<text x="381" y="245" font-family="Liberation Sans" font-size="5" font-weight="bold" fill="#f0eede" text-anchor="start" >R15</text>
<text x="381" y="252" font-family="Liberation Sans" font-size="5" font-weight="bold" fill="#f0eede" text-anchor="start" >R12</text>
<text x="381" y="259" font-family="Liberation Sans" font-size="5" font-weight="bold" fill="#f0eede" text-anchor="start" >R13</text>
<text x="381" y="266" font-family="Liberation Sans" font-size="5" font-weight="bold" fill="#f0eede" text-anchor="start" >R14</text>
<text x="373" y="120" font-family="Liberation Sans" font-size="5.5" font-weight="bold" fill="#f0eede" text-anchor="start" >C18</text>
<circle cx="376" cy="124" r="1.8" fill="#d2be55" />
<circle cx="376" cy="124" r="1.08" fill="#ece29c" />
<circle cx="381" cy="124" r="2" fill="#d2be55" />
<circle cx="381" cy="124" r="1.2" fill="#ece29c" />
<circle cx="376" cy="129" r="1.6" fill="#d2be55" />
<circle cx="376" cy="129" r="0.96" fill="#ece29c" />
<circle cx="380" cy="133" r="2" fill="#d2be55" />
<circle cx="380" cy="133" r="1.2" fill="#ece29c" />
<text x="285" y="122" font-family="Liberation Sans" font-size="5.5" font-weight="bold" fill="#f0eede" text-anchor="start" >R9</text>
<circle cx="283" cy="128" r="2" fill="#d2be55" />
<circle cx="283" cy="128" r="1.2" fill="#ece29c" />
<rect x="287" y="126" width="10" height="4.5" rx="0" fill="#d4c27a" />
<rect x="289.5" y="126" width="5.0" height="4.5" rx="0" fill="#4a5468" />
<text x="287.3" y="229.5" font-family="Liberation Sans" font-size="5.5" font-weight="bold" fill="#f0eede" text-anchor="start" >R10</text>
<circle cx="284.5" cy="235.3" r="2.4" fill="#d2be55" />
<circle cx="284.5" cy="235.3" r="1.44" fill="#ece29c" />
<rect x="288.2" y="233.2" width="10.3" height="4.2" rx="0" fill="#d4c27a" />
<rect x="290.775" y="233.2" width="5.15" height="4.2" rx="0" fill="#4a5468" />
<circle cx="294.4" cy="206.9" r="2.6" fill="#d2be55" />
<circle cx="294.4" cy="206.9" r="1.56" fill="#ece29c" />
<circle cx="289" cy="255" r="2.6" fill="#d2be55" />
<circle cx="289" cy="255" r="1.56" fill="#ece29c" />
<rect x="288" y="262" width="10.5" height="4.4" rx="0" fill="#d4c27a" />
<rect x="290.625" y="262" width="5.25" height="4.4" rx="0" fill="#4a5468" />
<text x="285.4" y="273" font-family="Liberation Sans" font-size="5.5" font-weight="bold" fill="#f0eede" text-anchor="start" >R11</text>
<circle cx="286.7" cy="288.4" r="2.5" fill="#d2be55" />
<circle cx="286.7" cy="288.4" r="1.5" fill="#ece29c" />
<circle cx="364.4" cy="292" r="2.8" fill="#d2be55" />
<circle cx="364.4" cy="292" r="1.68" fill="#ece29c" />
<circle cx="311" cy="297.3" r="2.4" fill="#d2be55" />
<circle cx="311" cy="297.3" r="1.44" fill="#ece29c" />
<text x="295.6" y="305.5" font-family="Liberation Sans" font-size="5.5" font-weight="bold" fill="#f0eede" text-anchor="start" >C20</text>
<circle cx="311" cy="303.5" r="2.1" fill="#d2be55" />
<circle cx="311" cy="303.5" r="1.26" fill="#ece29c" />
<circle cx="316.4" cy="303.5" r="2.1" fill="#d2be55" />
<circle cx="316.4" cy="303.5" r="1.26" fill="#ece29c" />
<circle cx="360" cy="303.5" r="3" fill="#d2be55" />
<circle cx="360" cy="303.5" r="1.7999999999999998" fill="#ece29c" />
<rect x="305.6" y="308" width="2.2" height="8.5" rx="0" fill="#d8c878" />
<rect x="305.6" y="343" width="2.2" height="8.5" rx="0" fill="#d8c878" />
<rect x="310.6" y="308" width="2.2" height="8.5" rx="0" fill="#d8c878" />
<rect x="310.6" y="343" width="2.2" height="8.5" rx="0" fill="#d8c878" />
<rect x="315.6" y="308" width="2.2" height="8.5" rx="0" fill="#d8c878" />
<rect x="315.6" y="343" width="2.2" height="8.5" rx="0" fill="#d8c878" />
<rect x="320.6" y="308" width="2.2" height="8.5" rx="0" fill="#d8c878" />
<rect x="320.6" y="343" width="2.2" height="8.5" rx="0" fill="#d8c878" />
<rect x="325.6" y="308" width="2.2" height="8.5" rx="0" fill="#d8c878" />
<rect x="325.6" y="343" width="2.2" height="8.5" rx="0" fill="#d8c878" />
<rect x="330.6" y="308" width="2.2" height="8.5" rx="0" fill="#d8c878" />
<rect x="330.6" y="343" width="2.2" height="8.5" rx="0" fill="#d8c878" />
<rect x="335.6" y="308" width="2.2" height="8.5" rx="0" fill="#d8c878" />
<rect x="335.6" y="343" width="2.2" height="8.5" rx="0" fill="#d8c878" />
<rect x="340.6" y="308" width="2.2" height="8.5" rx="0" fill="#d8c878" />
<rect x="340.6" y="343" width="2.2" height="8.5" rx="0" fill="#d8c878" />
<rect x="345.6" y="308" width="2.2" height="8.5" rx="0" fill="#d8c878" />
<rect x="345.6" y="343" width="2.2" height="8.5" rx="0" fill="#d8c878" />
<rect x="350.6" y="308" width="2.2" height="8.5" rx="0" fill="#d8c878" />
<rect x="350.6" y="343" width="2.2" height="8.5" rx="0" fill="#d8c878" />
<rect x="355.6" y="308" width="2.2" height="8.5" rx="0" fill="#d8c878" />
<rect x="355.6" y="343" width="2.2" height="8.5" rx="0" fill="#d8c878" />
<rect x="360.6" y="308" width="2.2" height="8.5" rx="0" fill="#d8c878" />
<rect x="360.6" y="343" width="2.2" height="8.5" rx="0" fill="#d8c878" />
<rect x="304.5" y="316.5" width="59" height="27" rx="0" fill="#4e4e52" />
<text x="293.9" y="324.5" font-family="Liberation Sans" font-size="5.5" font-weight="bold" fill="#f0eede" text-anchor="start" >B3</text>
<circle cx="285.5" cy="354.8" r="2.5" fill="#d2be55" />
<circle cx="285.5" cy="354.8" r="1.5" fill="#ece29c" />
<line x1="288" y1="355" x2="305" y2="355" stroke="#2a2610" stroke-width="0.9"/>
<circle cx="307" cy="355" r="1.6" fill="#d2be55" />
<circle cx="307" cy="355" r="0.96" fill="#ece29c" />
<circle cx="312" cy="355" r="1.6" fill="#d2be55" />
<circle cx="312" cy="355" r="0.96" fill="#ece29c" />
<text x="293" y="362" font-family="Liberation Sans" font-size="5.5" font-weight="bold" fill="#f0eede" text-anchor="start" >C19</text>
<circle cx="331" cy="355" r="2" fill="#d2be55" />
<circle cx="331" cy="355" r="1.2" fill="#ece29c" />
<circle cx="341" cy="355" r="2" fill="#d2be55" />
<circle cx="341" cy="355" r="1.2" fill="#ece29c" />
<circle cx="285.5" cy="366" r="2.5" fill="#d2be55" />
<circle cx="285.5" cy="366" r="1.5" fill="#ece29c" />
<line x1="288" y1="366" x2="296" y2="366" stroke="#2a2610" stroke-width="0.9"/>
<path d="M176,299.4 L180,299.4 L181,301 L196,301 L197.5,299.4 L200.7,300.5 L200.7,304 L199.5,305 L199.5,321.5 L200.7,322.5 L200.7,326 L197.5,327 L196,325.5 L181,325.5 L180,327 L176,327 L173,324 L173,302.5 Z" fill="#e6ae08"/>
<rect x="181" y="303.5" width="12" height="23" rx="0" fill="#d8a004" />
<circle cx="185" cy="314.9" r="10.5" fill="#dca406" />
<circle cx="177.1" cy="314.9" r="10.6" fill="#ecb612" />
<circle cx="177.1" cy="314.9" r="7.9" fill="#f0f0f6" />
<circle cx="177.1" cy="314.9" r="1.9" fill="#a87c10" />
<line x1="200.7" y1="313.5" x2="207.2" y2="313.5" stroke="#221e0c" stroke-width="0.9"/>
<line x1="212.5" y1="301.6" x2="212.5" y2="325.7" stroke="#221e0c" stroke-width="0.9"/>
<rect x="206.4" y="293.8" width="15.2" height="8.6" rx="0" fill="#221e0c" />
<rect x="207.2" y="294.6" width="13.6" height="7" rx="0" fill="#f0e6b4" />
<rect x="209" y="296.20000000000005" width="10" height="3.8" rx="0" fill="#c8b84e" />
<rect x="206.4" y="324.9" width="15.2" height="8.6" rx="0" fill="#221e0c" />
<rect x="207.2" y="325.7" width="13.6" height="7" rx="0" fill="#f0e6b4" />
<rect x="209" y="327.3" width="10" height="3.8" rx="0" fill="#c8b84e" />
<rect x="207.2" y="310.5" width="13.6" height="6" rx="0" fill="#d8d8d0" />
<rect x="210.2" y="310.5" width="7.6" height="6" rx="0" fill="#4a5068" />
<circle cx="211.6" cy="321.3" r="2.4" fill="#d2be55" />
<circle cx="211.6" cy="321.3" r="1.44" fill="#ece29c" />
<circle cx="220.4" cy="320.9" r="2.4" fill="#d2be55" />
<circle cx="220.4" cy="320.9" r="1.44" fill="#ece29c" />
<text x="223" y="301" font-family="Liberation Sans" font-size="5.5" font-weight="bold" fill="#f0eede" text-anchor="start" >OUT</text>
<text x="223" y="316.5" font-family="Liberation Sans" font-size="5.5" font-weight="bold" fill="#f0eede" text-anchor="start" >R23</text>
<text x="223" y="332" font-family="Liberation Sans" font-size="5.5" font-weight="bold" fill="#f0eede" text-anchor="start" >GND</text>
<text x="170.2" y="344.6" font-family="Liberation Mono" font-size="5.6" font-weight="bold" fill="#f0eede" text-anchor="start" textLength="36.6" lengthAdjust="spacingAndGlyphs">SIGNAL OUT</text>
<path d="M173.5,357.5 L177,357.5 L177,348 L182,348 L182,357.5 L186,357.5 L186,348 L191,348 L191,357.5 L196.5,357.5" fill="none" stroke="#f0eede" stroke-width="1.1"/>
<text x="173.5" y="367.3" font-family="Liberation Mono" font-size="6" font-weight="normal" fill="#f0eede" text-anchor="start" stroke="#f0eede" stroke-width="0.25" textLength="49" lengthAdjust="spacingAndGlyphs">10 cycle pulse</text>
<text x="173.5" y="374" font-family="Liberation Mono" font-size="6" font-weight="normal" fill="#f0eede" text-anchor="start" stroke="#f0eede" stroke-width="0.25" textLength="55.5" lengthAdjust="spacingAndGlyphs">Vout 5V / 30kHz</text>
<text x="173.5" y="380.5" font-family="Liberation Mono" font-size="6" font-weight="normal" fill="#f0eede" text-anchor="start" stroke="#f0eede" stroke-width="0.25" textLength="80" lengthAdjust="spacingAndGlyphs">Pulse width 0.3 - 10us</text>
<text x="469.6" y="248.8" font-family="Liberation Sans" font-size="5" font-weight="bold" fill="#f0eede" text-anchor="start" >C21</text>
<circle cx="484" cy="240.3" r="2.3" fill="#d2be55" />
<circle cx="484" cy="240.3" r="1.38" fill="#ece29c" />
<circle cx="484" cy="246.6" r="2" fill="#d2be55" />
<circle cx="484" cy="246.6" r="1.2" fill="#ece29c" />
<circle cx="490.5" cy="247.5" r="2" fill="#d2be55" />
<circle cx="490.5" cy="247.5" r="1.2" fill="#ece29c" />
<circle cx="490.5" cy="251.5" r="2" fill="#d2be55" />
<circle cx="490.5" cy="251.5" r="1.2" fill="#ece29c" />
<circle cx="441.5" cy="266" r="13" fill="#121212" />
<circle cx="556.5" cy="266" r="13" fill="#121212" />
<circle cx="441" cy="372.5" r="13" fill="#121212" />
<circle cx="556.5" cy="372.5" r="13" fill="#121212" />
<path d="M437,252.9 L562,252.9 Q567,252.9 567,258 L567,375 Q567,380 562,380 L525.4,380 L525.4,366 L473,366 L473,380 L437,380 Q431.9,380 431.9,375 L431.9,258 Q431.9,252.9 437,252.9 Z" fill="#0c3696"/>
<rect x="435" y="273.5" width="130.8" height="87.7" rx="0" fill="#151515" />
<rect x="476.6" y="361" width="47.4" height="10.8" rx="0" fill="#151515" />
<rect x="473" y="379" width="52.4" height="1.6" rx="0" fill="#d4d0b4" />
<rect x="443.8" y="281" width="114" height="56.7" rx="0" fill="#2b36a0" />
<circle cx="485" cy="258.1" r="3" fill="#c8a060" />
<circle cx="485" cy="258.1" r="1.3" fill="#8a6a40" />
<circle cx="494.8" cy="258.1" r="3" fill="#c8a060" />
<circle cx="494.8" cy="258.1" r="1.3" fill="#8a6a40" />
<circle cx="504.7" cy="258.1" r="3" fill="#c8a060" />
<circle cx="504.7" cy="258.1" r="1.3" fill="#8a6a40" />
<circle cx="514.3" cy="258.1" r="3" fill="#c8a060" />
<circle cx="514.3" cy="258.1" r="1.3" fill="#8a6a40" />
<circle cx="441.9" cy="264.3" r="5.8" fill="#f4f4f0" />
<circle cx="556.3" cy="264.3" r="5.8" fill="#f4f4f0" />
<circle cx="441.8" cy="372.2" r="5.8" fill="#f4f4f0" />
<circle cx="556.6" cy="372.2" r="5.8" fill="#f4f4f0" />
<text x="448.5" y="293.8" font-family="Liberation Sans" font-size="10.2" font-weight="bold" fill="#ffffff" text-anchor="start" >10 cycle pulse</text>
<text x="452.5" y="308" font-family="Liberation Sans" font-size="10.2" font-weight="bold" fill="#ffffff" text-anchor="start" >PW = 0.3 us</text>
<text x="453" y="323" font-family="Liberation Sans" font-size="10.2" font-weight="bold" fill="#ffffff" text-anchor="start" >t = 125.1 C</text>
<text x="453" y="335.8" font-family="Liberation Sans" font-size="10.2" font-weight="bold" fill="#ffffff" text-anchor="start" >heating ON</text>
<rect x="231.8" y="390.5" width="165.5" height="99.5" fill="none" stroke="#ddd8b8" stroke-width="1.5"/>
<path d="M256.2,411.8 L261.7,411.8 L261.7,402.9 L267.9,402.9 L267.9,411.8 L272,411.8 L272,402.9 L278.2,402.9 L278.2,411.8 L280.3,411.8" fill="none" stroke="#f0eede" stroke-width="1.2"/>
<text x="317.6" y="405.9" font-family="Liberation Mono" font-size="11.2" font-weight="normal" fill="#f0eede" text-anchor="middle" stroke="#f0eede" stroke-width="0.65" textLength="66" lengthAdjust="spacingAndGlyphs">DOUBLE PULSE</text>
<text x="316.3" y="416.9" font-family="Liberation Mono" font-size="11.2" font-weight="normal" fill="#f0eede" text-anchor="middle" stroke="#f0eede" stroke-width="0.65" textLength="50" lengthAdjust="spacingAndGlyphs">GENERATOR</text>
<text x="261.8" y="435" font-family="Liberation Sans" font-size="9.5" font-weight="bold" fill="#f0eede" text-anchor="middle" textLength="28" lengthAdjust="spacingAndGlyphs">START</text>
<text x="321.2" y="433" font-family="Liberation Sans" font-size="9.5" font-weight="bold" fill="#f0eede" text-anchor="middle" textLength="18" lengthAdjust="spacingAndGlyphs">PW+</text>
<text x="364.2" y="433" font-family="Liberation Sans" font-size="9.5" font-weight="bold" fill="#f0eede" text-anchor="middle" textLength="17" lengthAdjust="spacingAndGlyphs">PW-</text>
<circle cx="251" cy="444" r="2" fill="#d2be55" />
<circle cx="251" cy="444" r="1.2" fill="#ece29c" />
<circle cx="271.5" cy="444" r="2" fill="#d2be55" />
<circle cx="271.5" cy="444" r="1.2" fill="#ece29c" />
<rect x="240" y="442" width="4.2" height="10" rx="0" fill="#d4c27a" />
<rect x="240" y="444.5" width="4.2" height="5.0" rx="0" fill="#4a5468" />
<circle cx="242" cy="456" r="1.8" fill="#d2be55" />
<circle cx="242" cy="456" r="1.08" fill="#ece29c" />
<text x="238" y="440" font-family="Liberation Sans" font-size="5" font-weight="bold" fill="#f0eede" text-anchor="start" >R1</text>
<text x="237" y="468" font-family="Liberation Sans" font-size="5" font-weight="bold" fill="#f0eede" text-anchor="start" >PB1</text>
<rect x="248" y="446.7" width="26.4" height="26.4" rx="1.2" fill="#a8a8a4" />
<rect x="248" y="449.5" width="23.099999999999998" height="23.599999999999998" rx="1" fill="#d6d6d4" />
<circle cx="259.616" cy="461.484" r="7.2" fill="#e6e6e6" />
<circle cx="259.916" cy="461.784" r="5.6" fill="#f6f6f6" />
<circle cx="250.7" cy="453.0" r="2.6" fill="#505052" />
<circle cx="268.1" cy="453.0" r="2.6" fill="#505052" />
<circle cx="250.7" cy="470.59999999999997" r="2.6" fill="#505052" />
<circle cx="268.1" cy="470.59999999999997" r="2.6" fill="#505052" />
<circle cx="310" cy="444" r="2" fill="#d2be55" />
<circle cx="310" cy="444" r="1.2" fill="#ece29c" />
<circle cx="330.5" cy="444" r="2" fill="#d2be55" />
<circle cx="330.5" cy="444" r="1.2" fill="#ece29c" />
<rect x="299" y="442" width="4.2" height="10" rx="0" fill="#d4c27a" />
<rect x="299" y="444.5" width="4.2" height="5.0" rx="0" fill="#4a5468" />
<circle cx="301" cy="456" r="1.8" fill="#d2be55" />
<circle cx="301" cy="456" r="1.08" fill="#ece29c" />
<text x="297" y="440" font-family="Liberation Sans" font-size="5" font-weight="bold" fill="#f0eede" text-anchor="start" >R17</text>
<text x="296" y="468" font-family="Liberation Sans" font-size="5" font-weight="bold" fill="#f0eede" text-anchor="start" >PB3</text>
<rect x="307" y="446.7" width="26.4" height="26.4" rx="1.2" fill="#a8a8a4" />
<rect x="307" y="449.5" width="23.099999999999998" height="23.599999999999998" rx="1" fill="#d6d6d4" />
<circle cx="318.616" cy="461.484" r="7.2" fill="#e6e6e6" />
<circle cx="318.916" cy="461.784" r="5.6" fill="#f6f6f6" />
<circle cx="309.7" cy="453.0" r="2.6" fill="#505052" />
<circle cx="327.1" cy="453.0" r="2.6" fill="#505052" />
<circle cx="309.7" cy="470.59999999999997" r="2.6" fill="#505052" />
<circle cx="327.1" cy="470.59999999999997" r="2.6" fill="#505052" />
<circle cx="353.8" cy="444" r="2" fill="#d2be55" />
<circle cx="353.8" cy="444" r="1.2" fill="#ece29c" />
<circle cx="374.3" cy="444" r="2" fill="#d2be55" />
<circle cx="374.3" cy="444" r="1.2" fill="#ece29c" />
<rect x="342.8" y="442" width="4.2" height="10" rx="0" fill="#d4c27a" />
<rect x="342.8" y="444.5" width="4.2" height="5.0" rx="0" fill="#4a5468" />
<circle cx="344.8" cy="456" r="1.8" fill="#d2be55" />
<circle cx="344.8" cy="456" r="1.08" fill="#ece29c" />
<text x="340.8" y="440" font-family="Liberation Sans" font-size="5" font-weight="bold" fill="#f0eede" text-anchor="start" >R20</text>
<text x="339.8" y="468" font-family="Liberation Sans" font-size="5" font-weight="bold" fill="#f0eede" text-anchor="start" >PB4</text>
<rect x="350.8" y="446.7" width="26.4" height="26.4" rx="1.2" fill="#a8a8a4" />
<rect x="350.8" y="449.5" width="23.099999999999998" height="23.599999999999998" rx="1" fill="#d6d6d4" />
<circle cx="362.416" cy="461.484" r="7.2" fill="#e6e6e6" />
<circle cx="362.716" cy="461.784" r="5.6" fill="#f6f6f6" />
<circle cx="353.5" cy="453.0" r="2.6" fill="#505052" />
<circle cx="370.90000000000003" cy="453.0" r="2.6" fill="#505052" />
<circle cx="353.5" cy="470.59999999999997" r="2.6" fill="#505052" />
<circle cx="370.90000000000003" cy="470.59999999999997" r="2.6" fill="#505052" />
<rect x="252" y="476" width="9" height="4.5" rx="0" fill="#d4c27a" />
<rect x="254.25" y="476" width="4.5" height="4.5" rx="0" fill="#4a5468" />
<rect x="265" y="476" width="9" height="4.5" rx="0" fill="#d4c27a" />
<rect x="267.25" y="476" width="4.5" height="4.5" rx="0" fill="#4a5468" />
<rect x="312" y="476" width="9" height="4.5" rx="0" fill="#d4c27a" />
<rect x="314.25" y="476" width="4.5" height="4.5" rx="0" fill="#4a5468" />
<rect x="322" y="476" width="9" height="4.5" rx="0" fill="#d4c27a" />
<rect x="324.25" y="476" width="4.5" height="4.5" rx="0" fill="#4a5468" />
<rect x="355" y="476" width="9" height="4.5" rx="0" fill="#d4c27a" />
<rect x="357.25" y="476" width="4.5" height="4.5" rx="0" fill="#4a5468" />
<rect x="365" y="476" width="9" height="4.5" rx="0" fill="#d4c27a" />
<rect x="367.25" y="476" width="4.5" height="4.5" rx="0" fill="#4a5468" />
<text x="251" y="487" font-family="Liberation Sans" font-size="5.5" font-weight="bold" fill="#f0eede" text-anchor="start" >C2</text>
<text x="263" y="487" font-family="Liberation Sans" font-size="5.5" font-weight="bold" fill="#f0eede" text-anchor="start" >R2</text>
<text x="308" y="487" font-family="Liberation Sans" font-size="5.5" font-weight="bold" fill="#f0eede" text-anchor="start" >C13</text>
<text x="320" y="487" font-family="Liberation Sans" font-size="5.5" font-weight="bold" fill="#f0eede" text-anchor="start" >R18</text>
<text x="351" y="487" font-family="Liberation Sans" font-size="5.5" font-weight="bold" fill="#f0eede" text-anchor="start" >C15</text>
<text x="363" y="487" font-family="Liberation Sans" font-size="5.5" font-weight="bold" fill="#f0eede" text-anchor="start" >R21</text>
<circle cx="277" cy="478" r="2" fill="#d2be55" />
<circle cx="277" cy="478" r="1.2" fill="#ece29c" />
<text x="278" y="487" font-family="Liberation Sans" font-size="5.5" font-weight="bold" fill="#f0eede" text-anchor="start" >R27</text>
<circle cx="293" cy="431" r="2" fill="#d2be55" />
<circle cx="293" cy="431" r="1.2" fill="#ece29c" />
<path d="M293,433 L293,440 L288,445" fill="none" stroke="#2a2610" stroke-width="0.9"/>
<text x="279" y="448" font-family="Liberation Sans" font-size="5" font-weight="bold" fill="#f0eede" text-anchor="start" >LD4</text>
<rect x="281.5" y="451" width="8" height="15" rx="0" fill="#d8c050" />
<rect x="281.5" y="455.5" width="8" height="6.0" rx="0" fill="#2e9a3a" />
<rect x="283" y="468" width="4.5" height="9" rx="0" fill="#d4c27a" />
<rect x="283" y="470.25" width="4.5" height="4.5" rx="0" fill="#4a5468" />
<rect x="400.5" y="391" width="128.5" height="99.5" fill="none" stroke="#ddd8b8" stroke-width="1.5"/>
<text x="499.4" y="408.1" font-family="Liberation Mono" font-size="10.2" font-weight="normal" fill="#f0eede" text-anchor="middle" stroke="#f0eede" stroke-width="0.65" textLength="44" lengthAdjust="spacingAndGlyphs">HOTPLATE</text>
<text x="498.9" y="418.8" font-family="Liberation Mono" font-size="10.2" font-weight="normal" fill="#f0eede" text-anchor="middle" stroke="#f0eede" stroke-width="0.65" textLength="43" lengthAdjust="spacingAndGlyphs">TEMP.SET</text>
<text x="421.3" y="415.2" font-family="Liberation Sans" font-size="8.5" font-weight="bold" fill="#f0eede" text-anchor="middle" textLength="22" lengthAdjust="spacingAndGlyphs">175C</text>
<text x="421.3" y="435" font-family="Liberation Sans" font-size="8.5" font-weight="bold" fill="#f0eede" text-anchor="middle" textLength="22" lengthAdjust="spacingAndGlyphs">150C</text>
<text x="421.3" y="455.7" font-family="Liberation Sans" font-size="8.5" font-weight="bold" fill="#f0eede" text-anchor="middle" textLength="22" lengthAdjust="spacingAndGlyphs">125C</text>
<text x="421.3" y="474.9" font-family="Liberation Sans" font-size="8.5" font-weight="bold" fill="#f0eede" text-anchor="middle" textLength="16.5" lengthAdjust="spacingAndGlyphs">OFF</text>
<circle cx="441" cy="403.9" r="2.2" fill="#d2be55" />
<circle cx="441" cy="403.9" r="1.32" fill="#ece29c" />
<rect x="438" y="408.4" width="16" height="7" rx="0" fill="#d8c050" />
<rect x="443.5" y="408.4" width="5.5" height="7" rx="0" fill="#2a8c34" />
<rect x="442.8" y="408.4" width="0.8" height="7" rx="0" fill="#b8a040" />
<rect x="449" y="408.4" width="0.8" height="7" rx="0" fill="#b8a040" />
<circle cx="455.8" cy="409.9" r="0.8" fill="#f0eede" />
<circle cx="441" cy="423.4" r="2.2" fill="#d2be55" />
<circle cx="441" cy="423.4" r="1.32" fill="#ece29c" />
<rect x="438" y="427.9" width="16" height="7" rx="0" fill="#d8c050" />
<rect x="443.5" y="427.9" width="5.5" height="7" rx="0" fill="#2a8c34" />
<rect x="442.8" y="427.9" width="0.8" height="7" rx="0" fill="#b8a040" />
<rect x="449" y="427.9" width="0.8" height="7" rx="0" fill="#b8a040" />
<circle cx="455.8" cy="429.4" r="0.8" fill="#f0eede" />
<circle cx="441" cy="443.5" r="2.2" fill="#d2be55" />
<circle cx="441" cy="443.5" r="1.32" fill="#ece29c" />
<rect x="438" y="448.0" width="16" height="7" rx="0" fill="#d8c050" />
<rect x="443.5" y="448.0" width="5.5" height="7" rx="0" fill="#2a8c34" />
<rect x="442.8" y="448.0" width="0.8" height="7" rx="0" fill="#b8a040" />
<rect x="449" y="448.0" width="0.8" height="7" rx="0" fill="#b8a040" />
<circle cx="455.8" cy="449.5" r="0.8" fill="#f0eede" />
<circle cx="441" cy="463.4" r="2.2" fill="#d2be55" />
<circle cx="441" cy="463.4" r="1.32" fill="#ece29c" />
<rect x="438" y="467.9" width="16" height="7" rx="0" fill="#d8c050" />
<rect x="443.5" y="467.9" width="5.5" height="7" rx="0" fill="#2a8c34" />
<rect x="442.8" y="467.9" width="0.8" height="7" rx="0" fill="#b8a040" />
<rect x="449" y="467.9" width="0.8" height="7" rx="0" fill="#b8a040" />
<circle cx="455.8" cy="469.4" r="0.8" fill="#f0eede" />
<rect x="449.9" y="417.1" width="9.4" height="4.8" rx="0" fill="#d4c27a" />
<rect x="452.5" y="417.1" width="4.2" height="4.8" rx="0" fill="#4a5468" />
<rect x="449.9" y="436.1" width="9.4" height="4.8" rx="0" fill="#d4c27a" />
<rect x="452.5" y="436.1" width="4.2" height="4.8" rx="0" fill="#4a5468" />
<rect x="449.9" y="456.6" width="9.4" height="4.8" rx="0" fill="#d4c27a" />
<rect x="452.5" y="456.6" width="4.2" height="4.8" rx="0" fill="#4a5468" />
<rect x="449.9" y="476.1" width="9.4" height="4.8" rx="0" fill="#d4c27a" />
<rect x="452.5" y="476.1" width="4.2" height="4.8" rx="0" fill="#4a5468" />
<circle cx="464.6" cy="438.5" r="2.4" fill="#d2be55" />
<circle cx="464.6" cy="438.5" r="1.44" fill="#ece29c" />
<circle cx="464.6" cy="459" r="2.4" fill="#d2be55" />
<circle cx="464.6" cy="459" r="1.44" fill="#ece29c" />
<circle cx="464.6" cy="478.5" r="2.4" fill="#d2be55" />
<circle cx="464.6" cy="478.5" r="1.44" fill="#ece29c" />
<circle cx="459.3" cy="426.1" r="2.4" fill="#d2be55" />
<circle cx="459.3" cy="426.1" r="1.44" fill="#ece29c" />
<text x="457.5" y="414.8" font-family="Liberation Sans" font-size="5" font-weight="bold" fill="#f0eede" text-anchor="start" >R24</text>
<text x="455.8" y="448.5" font-family="Liberation Sans" font-size="5" font-weight="bold" fill="#f0eede" text-anchor="start" >R26</text>
<text x="455.8" y="469" font-family="Liberation Sans" font-size="5" font-weight="bold" fill="#f0eede" text-anchor="start" >R25</text>
<text x="455.8" y="488.5" font-family="Liberation Sans" font-size="5" font-weight="bold" fill="#f0eede" text-anchor="start" >R28</text>
<text x="437" y="420" font-family="Liberation Sans" font-size="5" font-weight="bold" fill="#f0eede" text-anchor="start" >LD6</text>
<text x="437" y="440.5" font-family="Liberation Sans" font-size="5" font-weight="bold" fill="#f0eede" text-anchor="start" >LD3</text>
<text x="437" y="460" font-family="Liberation Sans" font-size="5" font-weight="bold" fill="#f0eede" text-anchor="start" >LD2</text>
<text x="437" y="480.5" font-family="Liberation Sans" font-size="5" font-weight="bold" fill="#f0eede" text-anchor="start" >LD5</text>
<text x="478" y="442" font-family="Liberation Sans" font-size="5" font-weight="bold" fill="#f0eede" text-anchor="start" >R6</text>
<circle cx="489" cy="445" r="2" fill="#d2be55" />
<circle cx="489" cy="445" r="1.2" fill="#ece29c" />
<circle cx="508" cy="445" r="2" fill="#d2be55" />
<circle cx="508" cy="445" r="1.2" fill="#ece29c" />
<rect x="480" y="446" width="4.2" height="10" rx="0" fill="#d4c27a" />
<rect x="480" y="448.5" width="4.2" height="5.0" rx="0" fill="#4a5468" />
<circle cx="481" cy="459" r="1.8" fill="#d2be55" />
<circle cx="481" cy="459" r="1.08" fill="#ece29c" />
<rect x="486.7" y="448.2" width="25.6" height="25.6" rx="1.2" fill="#a8a8a4" />
<rect x="486.7" y="451.0" width="22.3" height="22.8" rx="1" fill="#d6d6d4" />
<circle cx="497.964" cy="462.536" r="7.2" fill="#e6e6e6" />
<circle cx="498.264" cy="462.836" r="5.6" fill="#f6f6f6" />
<circle cx="489.4" cy="454.5" r="2.6" fill="#505052" />
<circle cx="506.0" cy="454.5" r="2.6" fill="#505052" />
<circle cx="489.4" cy="471.3" r="2.6" fill="#505052" />
<circle cx="506.0" cy="471.3" r="2.6" fill="#505052" />
<text x="513" y="454" font-family="Liberation Sans" font-size="5" font-weight="bold" fill="#f0eede" text-anchor="start" >PB2</text>
<text x="477" y="480" font-family="Liberation Sans" font-size="5" font-weight="bold" fill="#f0eede" text-anchor="start" >C8</text>
<rect x="486" y="476" width="10" height="4.5" rx="0" fill="#d4c27a" />
<rect x="488.5" y="476" width="5.0" height="4.5" rx="0" fill="#4a5468" />
<rect x="500" y="476" width="10" height="4.5" rx="0" fill="#d4c27a" />
<rect x="502.5" y="476" width="5.0" height="4.5" rx="0" fill="#4a5468" />
<text x="514" y="480" font-family="Liberation Sans" font-size="5" font-weight="bold" fill="#f0eede" text-anchor="start" >R7</text>
</g>
<text x="71.6" y="30.3" font-family="Liberation Sans" font-size="20" fill="#161616" stroke="#161616" stroke-width="0.3" text-anchor="middle" textLength="103" lengthAdjust="spacingAndGlyphs">+5V output</text>
<text x="69.6" y="57.3" font-family="Liberation Sans" font-size="20" fill="#161616" stroke="#161616" stroke-width="0.3" text-anchor="middle" textLength="92.5" lengthAdjust="spacingAndGlyphs">connector</text>
<text x="72.5" y="84" font-family="Liberation Sans" font-size="20" fill="#161616" stroke="#161616" stroke-width="0.3" text-anchor="middle" textLength="130" lengthAdjust="spacingAndGlyphs">to dicrete DPT</text>
<text x="71.7" y="205.2" font-family="Liberation Sans" font-size="20" fill="#161616" stroke="#161616" stroke-width="0.3" text-anchor="middle" textLength="80" lengthAdjust="spacingAndGlyphs">Hotplate</text>
<text x="72" y="232.4" font-family="Liberation Sans" font-size="20" fill="#161616" stroke="#161616" stroke-width="0.3" text-anchor="middle" textLength="93" lengthAdjust="spacingAndGlyphs">connector</text>
<text x="74.7" y="316.1" font-family="Liberation Sans" font-size="20" fill="#161616" stroke="#161616" stroke-width="0.3" text-anchor="middle" textLength="70.5" lengthAdjust="spacingAndGlyphs">10pulse</text>
<text x="75" y="342.1" font-family="Liberation Sans" font-size="20" fill="#161616" stroke="#161616" stroke-width="0.3" text-anchor="middle" textLength="120" lengthAdjust="spacingAndGlyphs">signal output</text>
<text x="689.7" y="39.8" font-family="Liberation Sans" font-size="20" fill="#161616" stroke="#161616" stroke-width="0.3" text-anchor="middle" textLength="124" lengthAdjust="spacingAndGlyphs">+12V adapter</text>
<text x="689.8" y="67" font-family="Liberation Sans" font-size="20" fill="#161616" stroke="#161616" stroke-width="0.3" text-anchor="middle" textLength="92.5" lengthAdjust="spacingAndGlyphs">connector</text>
<text x="708.1" y="185" font-family="Liberation Sans" font-size="20" fill="#161616" stroke="#161616" stroke-width="0.3" text-anchor="middle" textLength="159.5" lengthAdjust="spacingAndGlyphs">control processor</text>
<text x="708.8" y="212.5" font-family="Liberation Sans" font-size="20" fill="#161616" stroke="#161616" stroke-width="0.3" text-anchor="middle" textLength="151" lengthAdjust="spacingAndGlyphs">NUCLEO-F303K8</text>
<text x="676.5" y="322" font-family="Liberation Sans" font-size="20" fill="#161616" stroke="#161616" stroke-width="0.3" text-anchor="middle" textLength="63.5" lengthAdjust="spacingAndGlyphs">display</text>
<text x="284.2" y="548.4" font-family="Liberation Sans" font-size="20" fill="#161616" stroke="#161616" stroke-width="0.3" text-anchor="middle" textLength="160" lengthAdjust="spacingAndGlyphs">generator control</text>
<text x="512.4" y="552.2" font-family="Liberation Sans" font-size="20" fill="#161616" stroke="#161616" stroke-width="0.3" text-anchor="middle" textLength="146.5" lengthAdjust="spacingAndGlyphs">hotplate control</text>
<line x1="160" y1="46.7" x2="232" y2="46.7" stroke="#3a3210" stroke-width="4.2" opacity="0.8"/>
<polygon points="235.2,46.7 226,41.7 226,51.7" fill="#3a3210" opacity="0.8"/>
<line x1="136" y1="46.7" x2="229" y2="46.7" stroke="#eebb1e" stroke-width="2.1"/>
<line x1="160" y1="46.7" x2="232" y2="46.7" stroke="#e6c02a" stroke-width="2.1"/>
<polygon points="234,46.7 227,43.1 227,50.300000000000004" fill="#e6c02a"/>
<line x1="121.5" y1="211.6" x2="145.5" y2="211.6" stroke="#eebb1e" stroke-width="2.1"/>
<polygon points="150.5,211.6 143.5,208.0 143.5,215.2" fill="#eebb1e"/>
<line x1="128.3" y1="315.6" x2="145.5" y2="315.6" stroke="#eebb1e" stroke-width="2.1"/>
<polygon points="150.5,315.6 143.5,312.0 143.5,319.20000000000005" fill="#eebb1e"/>
<line x1="540" y1="46.5" x2="603" y2="46.5" stroke="#3a3210" stroke-width="4.2" opacity="0.8"/>
<polygon points="537.3,46.5 546.5,41.5 546.5,51.5" fill="#3a3210" opacity="0.8"/>
<line x1="628" y1="46.5" x2="543.5" y2="46.5" stroke="#eebb1e" stroke-width="2.1"/>
<line x1="540" y1="46.5" x2="603" y2="46.5" stroke="#e6c02a" stroke-width="2.1"/>
<polygon points="538.5,46.5 545.5,42.9 545.5,50.1" fill="#e6c02a"/>
<line x1="385" y1="188.9" x2="603" y2="188.9" stroke="#3a3210" stroke-width="4.2" opacity="0.8"/>
<polygon points="381.8,188.9 391,183.9 391,193.9" fill="#3a3210" opacity="0.8"/>
<line x1="619" y1="188.9" x2="388" y2="188.9" stroke="#eebb1e" stroke-width="2.1"/>
<line x1="385" y1="188.9" x2="603" y2="188.9" stroke="#e6c02a" stroke-width="2.1"/>
<polygon points="383,188.9 390,185.3 390,192.5" fill="#e6c02a"/>
<line x1="575" y1="315.8" x2="603" y2="315.8" stroke="#3a3210" stroke-width="4.2" opacity="0.8"/>
<polygon points="571.8,315.8 581,310.8 581,320.8" fill="#3a3210" opacity="0.8"/>
<line x1="629" y1="315.8" x2="578" y2="315.8" stroke="#eebb1e" stroke-width="2.1"/>
<line x1="575" y1="315.8" x2="603" y2="315.8" stroke="#e6c02a" stroke-width="2.1"/>
<polygon points="573,315.8 580,312.2 580,319.40000000000003" fill="#e6c02a"/>
<line x1="308.2" y1="528" x2="308.2" y2="512.9" stroke="#eebb1e" stroke-width="2"/>
<polygon points="308.2,507.9 304.9,514.9 311.5,514.9" fill="#eebb1e"/>
<line x1="497.5" y1="528" x2="497.5" y2="512.9" stroke="#eebb1e" stroke-width="2"/>
<polygon points="497.5,507.9 494.2,514.9 500.8,514.9" fill="#eebb1e"/>
</svg>
</body></html>
